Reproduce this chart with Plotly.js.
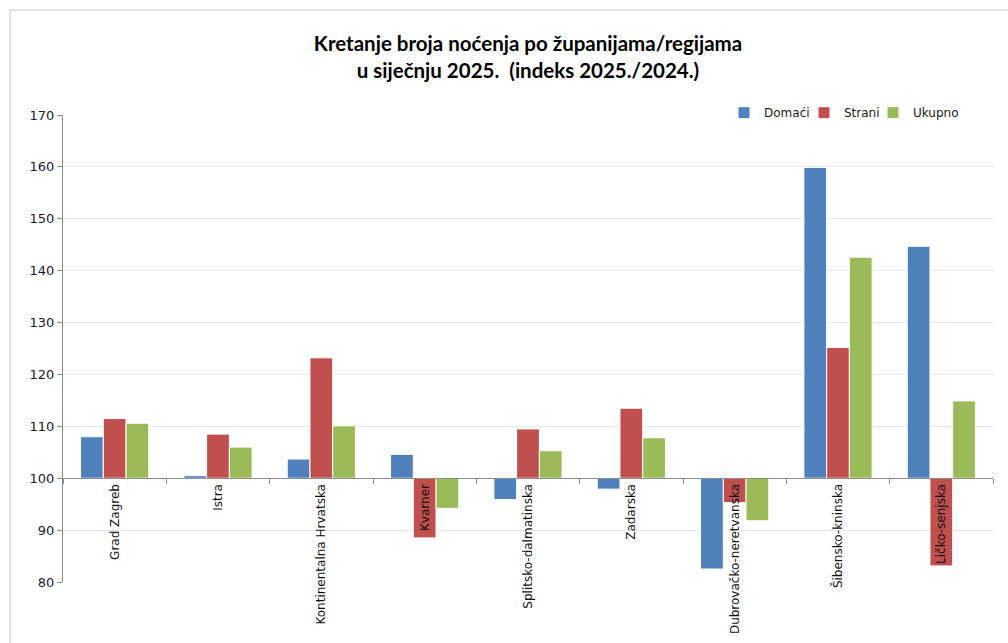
<!DOCTYPE html>
<html>
<head>
<meta charset="utf-8">
<script src="https://cdn.plot.ly/plotly-3.0.1.min.js"></script>
<style>html,body{margin:0;padding:0;background:#fff;}#chart{width:1008px;height:643px;}</style>
</head>
<body>
<div id="chart"></div>
<script>
// Data (index 2025./2024.)
const categories = ["Grad Zagreb", "Istra", "Kontinentalna Hrvatska", "Kvarner", "Splitsko-dalmatinska", "Zadarska", "Dubrovačko-neretvanska", "Šibensko-kninska", "Ličko-senjska"];
const domaci = [108.0, 100.5, 103.7, 104.6, 95.9, 97.9, 82.5, 159.9, 144.7];
const strani = [111.5, 108.5, 123.2, 88.5, 109.5, 113.5, 95.3, 125.2, 83.1];
const ukupno = [110.6, 106.0, 110.1, 94.2, 105.3, 107.8, 91.8, 142.6, 114.9];
const seriesNames = ["Domaći", "Strani", "Ukupno"];
const baseValue = 100;

const colors = ["#4f81bd", "#c0504d", "#9bbb59"];
const allSeries = [domaci, strani, ukupno];
const legendIds = ["legend", "legend2", "legend3"];

const traces = allSeries.map((vals, i) => ({
  type: "bar",
  name: seriesNames[i],
  legend: legendIds[i],
  x: categories,
  y: vals.map(v => v - baseValue),
  base: baseValue,
  marker: { color: colors[i], line: { color: "#ffffff", width: 1 } },
  hovertemplate: "%{x}<br>" + seriesNames[i] + ": %{customdata}<extra></extra>",
  customdata: vals
}));

const plotL = 63, plotW = 930;
const legFont = { family: "'DejaVu Sans'", size: 12, color: "#1a1a1a" };
function leg(px) {
  return {
    orientation: "h",
    x: (px - plotL) / plotW, xanchor: "left",
    y: 1.005, yanchor: "middle",
    font: legFont,
    bgcolor: "rgba(0,0,0,0)",
    itemwidth: 30
  };
}

const layout = {
  width: 1008,
  height: 643,
  margin: { l: 63, r: 15, t: 115, b: 61 },
  paper_bgcolor: "#ffffff",
  plot_bgcolor: "#ffffff",
  font: { family: "'DejaVu Sans'", size: 12, color: "#1a1a1a" },
  title: {
    text: "<b>Kretanje broja noćenja po županijama/regijama<br>u siječnju 2025.\u00a0 (indeks 2025./2024.)</b>",
    font: { family: "Lato", size: 20.5, color: "#000000" },
    x: 0.5, xref: "paper", xanchor: "center",
    y: 1 - 51 / 643, yref: "container", yanchor: "middle"
  },
  barmode: "group",
  bargap: 0.34,
  bargroupgap: 0,
  showlegend: true,
  legend: leg(724),
  legend2: leg(804),
  legend3: leg(873),
  xaxis: {
    type: "category",
    anchor: "free",
    position: (baseValue - 80) / (170 - 80),
    showline: true,
    linecolor: "#8c8c8c",
    linewidth: 1,
    ticks: "outside",
    tickson: "boundaries",
    ticklen: 5,
    tickcolor: "#8c8c8c",
    tickangle: -90,
    tickfont: { family: "'DejaVu Sans'", size: 12, color: "#111111" },
    showgrid: false,
    zeroline: false,
    fixedrange: true,
    automargin: false,
    layer: "above traces"
  },
  yaxis: {
    range: [80, 170],
    dtick: 10,
    tick0: 80,
    showline: true,
    linecolor: "#8c8c8c",
    linewidth: 1,
    ticks: "outside",
    ticklen: 5,
    tickcolor: "#8c8c8c",
    showgrid: true,
    gridcolor: "#e6e6e6",
    gridwidth: 1,
    zeroline: false,
    automargin: false,
    tickfont: { family: "'DejaVu Sans'", size: 13, color: "#1a1a2e" },
    fixedrange: true
  },
  shapes: [{
    type: "rect", xref: "paper", yref: "paper",
    x0: (10 - 63) / 930, x1: (1030 - 63) / 930,
    y0: (582 - 700) / 467, y1: (582 - 10) / 467,
    line: { color: "#d9d9d9", width: 1.5 },
    fillcolor: "rgba(0,0,0,0)",
    layer: "below"
  }]
};

Plotly.newPlot("chart", traces, layout, { displayModeBar: false, staticPlot: true });
</script>
</body>
</html>
